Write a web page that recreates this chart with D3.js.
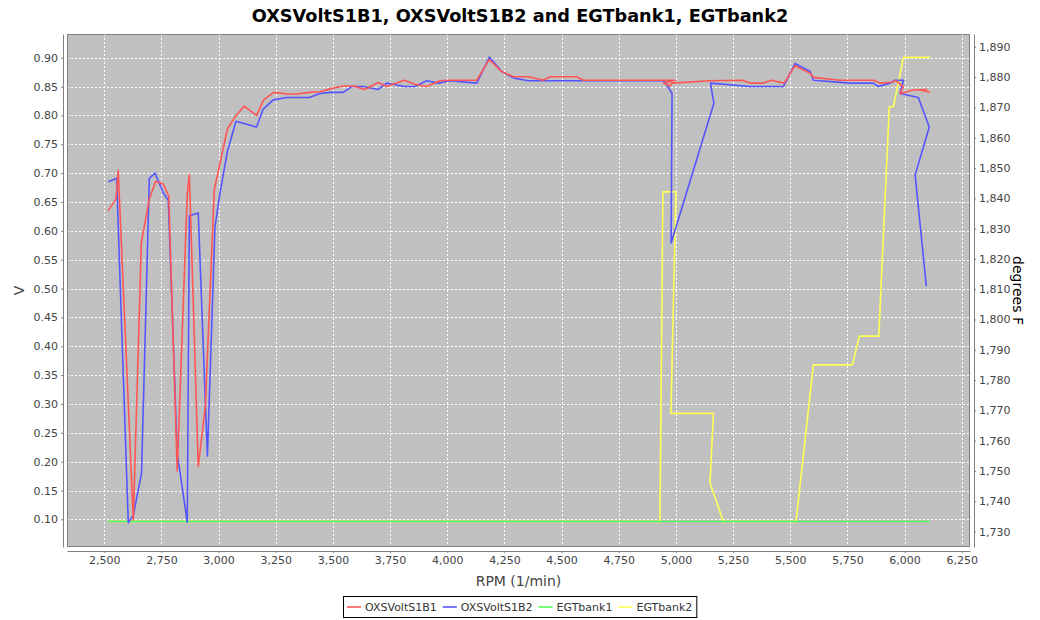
<!DOCTYPE html>
<html><head><meta charset="utf-8">
<script src="https://cdn.jsdelivr.net/npm/d3@7"></script>
<style>body{margin:0;background:#fff;} text{font-family:"DejaVu Sans",Tahoma,sans-serif;}</style>
</head><body><svg id="c" width="1040" height="620"></svg>
<script>
const title = "OXSVoltS1B1, OXSVoltS1B2 and EGTbank1, EGTbank2";
const xTicks = [2500,2750,3000,3250,3500,3750,4000,4250,4500,4750,5000,5250,5500,5750,6000,6250];
const vTicks = [0.10,0.15,0.20,0.25,0.30,0.35,0.40,0.45,0.50,0.55,0.60,0.65,0.70,0.75,0.80,0.85,0.90];
const tTicks = [1730,1740,1750,1760,1770,1780,1790,1800,1810,1820,1830,1840,1850,1860,1870,1880,1890];
const seriesNames = ["OXSVoltS1B1","OXSVoltS1B2","EGTbank1","EGTbank2"];

const s1b1Rpm = [2517,2551,2561,2627,2662,2697,2725,2758,2782,2819,2863,2872,2911,2942,2981,3038,3076,3112,3166,3197,3241,3298,3341,3397,3443,3487,3545,3589,3640,3698,3735,3812,3859,3910,3968,4012,4129,4184,4238,4289,4354,4420,4449,4566,4595,4945,4997,4945,4974,4981,5148,5288,5324,5382,5416,5473,5521,5587,5601,5718,5863,5893,5951,5958,5995,5980,6038,6097,6070,6111];
const s1b1V   = [0.635,0.655,0.705,0.099,0.579,0.655,0.686,0.681,0.660,0.184,0.665,0.697,0.192,0.295,0.671,0.776,0.800,0.816,0.800,0.827,0.840,0.837,0.837,0.840,0.841,0.846,0.851,0.851,0.845,0.857,0.850,0.861,0.854,0.850,0.860,0.861,0.861,0.897,0.876,0.867,0.867,0.861,0.867,0.867,0.861,0.861,0.861,0.856,0.851,0.856,0.860,0.861,0.856,0.856,0.861,0.856,0.886,0.873,0.866,0.861,0.861,0.856,0.858,0.861,0.850,0.838,0.844,0.845,0.844,0.840];

const s1b2Rpm = [2518,2554,2605,2627,2663,2697,2722,2758,2780,2819,2863,2872,2911,2951,2984,3006,3038,3076,3166,3195,3239,3298,3397,3443,3487,3545,3582,3633,3698,3735,3812,3859,3910,3961,4012,4129,4184,4238,4289,4354,4420,4595,4945,4953,4983,4979,5166,5151,5324,5470,5521,5587,5601,5762,5863,5885,5937,5958,5995,5980,6060,6108,6046,6095];
const s1b2V   = [0.685,0.691,0.094,0.107,0.180,0.691,0.700,0.666,0.653,0.215,0.095,0.626,0.631,0.210,0.607,0.665,0.737,0.790,0.780,0.811,0.827,0.831,0.831,0.838,0.840,0.840,0.850,0.850,0.845,0.856,0.850,0.850,0.860,0.856,0.860,0.856,0.901,0.876,0.865,0.860,0.860,0.860,0.860,0.857,0.838,0.579,0.821,0.856,0.850,0.850,0.890,0.876,0.861,0.856,0.856,0.850,0.856,0.861,0.861,0.838,0.831,0.780,0.697,0.504];

const egt1Rpm = [2516,2750,3000,3500,4000,4500,5000,5500,6000,6111];
const egt1T   = [1733.3,1733.3,1733.3,1733.3,1733.3,1733.3,1733.3,1733.3,1733.3,1733.3];

const egt2Rpm = [2516,4930,4943,5000,4978,5164,5149,5207,5525,5601,5772,5802,5887,5933,5951,5995,6111];
const egt2T   = [1733.3,1733.3,1842.1,1842.1,1769.0,1769.0,1746.1,1733.3,1733.3,1785.0,1785.0,1794.5,1794.5,1870.2,1870.2,1886.5,1886.5];

const colors = ["#ff5555","#5555ff","#55ff55","#ffff55"];

const svg = d3.select("#c");
const L=67, R=970, T=34, B=547;
const x = d3.scaleLinear().domain([2337,6286]).range([L,R]);
const yV = d3.scaleLinear().domain([0.0521,0.9411]).range([B,T]);
const yT = d3.scaleLinear().domain([1724.9,1894.2]).range([B,T]);

svg.append("text").attr("x",520).attr("y",22).attr("text-anchor","middle")
  .attr("font-size",17.7).attr("font-weight","bold").attr("fill","#000").text(title);

svg.append("rect").attr("x",L).attr("y",T).attr("width",R-L).attr("height",B-T).attr("fill","#c0c0c0");

const grid = svg.append("g").attr("stroke","#fff").attr("stroke-width",1).attr("stroke-dasharray","2,2");
xTicks.forEach(t=>{const px=Math.round(x(t))+0.5; if(px>L&&px<R) grid.append("line").attr("x1",px).attr("x2",px).attr("y1",T).attr("y2",B);});
vTicks.forEach(t=>{const py=Math.round(yV(t))+0.5; grid.append("line").attr("x1",L).attr("x2",R).attr("y1",py).attr("y2",py);});

svg.append("rect").attr("x",L+0.5).attr("y",T+0.5).attr("width",R-L-1).attr("height",B-T-1).attr("fill","none").attr("stroke","#808080");

const plot = svg.append("g");
function drawLine(xs, ys, ys_scale, color){
  const pts = xs.map((d,i)=>[d,ys[i]]);
  plot.append("path").datum(pts).attr("fill","none").attr("stroke",color).attr("stroke-width",1.6)
    .attr("stroke-linejoin","round")
    .attr("d", d3.line().x(d=>x(d[0])).y(d=>ys_scale(d[1])));
}
drawLine(egt2Rpm, egt2T, yT, colors[3]);
drawLine(egt1Rpm, egt1T, yT, colors[2]);
drawLine(s1b2Rpm, s1b2V, yV, colors[1]);
drawLine(s1b1Rpm, s1b1V, yV, colors[0]);

function styleAxis(g){
  g.selectAll("path.domain").attr("stroke","#808080");
  g.selectAll(".tick line").attr("stroke","#808080");
  g.selectAll(".tick text").attr("fill","#444").attr("font-size",11).attr("font-family","DejaVu Sans, Tahoma, sans-serif");
}
const gx = svg.append("g").attr("transform",`translate(0,${B+4})`)
  .call(d3.axisBottom(x).tickValues(xTicks).tickFormat(d3.format(",")).tickSizeOuter(0).tickSizeInner(2).tickPadding(3));
styleAxis(gx);
const gl = svg.append("g").attr("transform",`translate(${L-4},0)`)
  .call(d3.axisLeft(yV).tickValues(vTicks).tickFormat(d3.format(".2f")).tickSizeOuter(0).tickSizeInner(2).tickPadding(3));
styleAxis(gl);
const gr = svg.append("g").attr("transform",`translate(${R+4},0)`)
  .call(d3.axisRight(yT).tickValues(tTicks).tickFormat(d3.format(",")).tickSizeOuter(0).tickSizeInner(2).tickPadding(3));
styleAxis(gr);

svg.append("text").attr("x",(L+R)/2).attr("y",586).attr("text-anchor","middle").attr("font-size",14).attr("fill","#444").text("RPM (1/min)");
svg.append("text").attr("transform",`translate(24,${(T+B)/2}) rotate(-90)`).attr("text-anchor","middle").attr("font-size",14).attr("fill","#444").text("V");
svg.append("text").attr("transform",`translate(1013,${(T+B)/2}) rotate(90)`).attr("text-anchor","middle").attr("font-size",14).attr("fill","#000").text("degrees F");

// legend
const legendRect = svg.append("rect").attr("fill","#fff").attr("stroke","#000");
const lg = svg.append("g");
let cx = 0;
seriesNames.forEach((n,i)=>{
  const g = lg.append("g").attr("transform",`translate(${cx},0)`);
  g.append("line").attr("x1",2).attr("x2",16).attr("y1",0).attr("y2",0).attr("stroke",colors[i]).attr("stroke-width",1.6);
  const t = g.append("text").attr("x",20).attr("y",4).attr("font-size",11).attr("fill","#333").text(n);
  cx += 20 + t.node().getComputedTextLength() + 4;
});
const lw = cx + 2;
const lx = Math.round(520 - lw/2);
lg.attr("transform",`translate(${lx+2},607)`);
legendRect.attr("x",lx+0.5).attr("y",596.5).attr("width",lw).attr("height",21);
</script></body></html>
